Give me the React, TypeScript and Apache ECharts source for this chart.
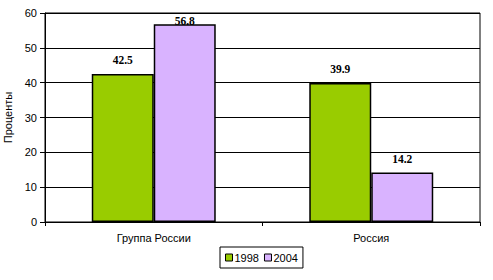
import React, { useEffect, useRef } from "react";
import * as echarts from "echarts";

const categories = ["Группа России", "Россия"];
const seriesNames = ["1998", "2004"];
const values1998 = [42.5, 39.9];
const values2004 = [56.8, 14.2];
const yTicks = [0, 10, 20, 30, 40, 50, 60];

export default function App() {
  const ref = useRef<HTMLDivElement>(null);
  useEffect(() => {
    const chart = echarts.init(ref.current!, null, { renderer: "svg" });
    const labelBase = {
      show: true,
      position: "top" as const,
      distance: 8,
      fontFamily: "Liberation Serif",
      fontWeight: "bold" as const,
      fontSize: 11.5,
      color: "#000",
    };
    const mk = (vals: number[]) =>
      vals.map((v) => ({
        value: v,
        label: v > 55 ? { ...labelBase, position: "insideTop" as const, distance: -9 } : labelBase,
      }));
    chart.setOption({
      animation: false,
      textStyle: { fontFamily: "Liberation Sans" },
      grid: {
        left: 45,
        right: 13,
        top: 13,
        bottom: 58,
        show: true,
        borderColor: "#000",
        borderWidth: 1,
        containLabel: false,
        outerBoundsMode: "none",
      },
      legend: {
        data: seriesNames,
        left: 220,
        top: 247,
        orient: "horizontal",
        icon: "rect",
        itemWidth: 7,
        itemHeight: 7,
        itemGap: 5,
        padding: [5, 5],
        borderColor: "#000",
        borderWidth: 1,
        textStyle: { fontFamily: "Liberation Sans", fontSize: 11, color: "#000", padding: [0, 0, 0, -3] },
        itemStyle: { borderColor: "#000", borderWidth: 1 },
      },
      xAxis: {
        type: "category",
        data: categories,
        axisLine: { lineStyle: { color: "#000", width: 1 } },
        axisTick: { show: true, length: 4, lineStyle: { color: "#000" } },
        axisLabel: { color: "#000", fontSize: 11, fontFamily: "Liberation Sans", margin: 10 },
      },
      yAxis: {
        type: "value",
        min: yTicks[0],
        max: yTicks[yTicks.length - 1],
        interval: 10,
        name: "Проценты",
        nameLocation: "middle",
        nameGap: 29,
        nameRotate: 90,
        nameTextStyle: { color: "#000", fontSize: 11, fontFamily: "Liberation Sans" },
        axisLine: { show: true, lineStyle: { color: "#000", width: 1 } },
        axisTick: { show: true, length: 5, lineStyle: { color: "#000" } },
        axisLabel: { color: "#000", fontSize: 11, fontFamily: "Liberation Sans", margin: 8 },
        splitLine: { show: true, lineStyle: { color: "#000", width: 1 } },
      },
      series: [
        {
          name: seriesNames[0],
          type: "bar",
          data: mk(values1998),
          barGap: "0%",
          barCategoryGap: "43%",
          itemStyle: { color: "#99CC00", borderColor: "#000", borderWidth: 1.5 },
        },
        {
          name: seriesNames[1],
          type: "bar",
          data: mk(values2004),
          barGap: "0%",
          barCategoryGap: "43%",
          itemStyle: { color: "#D9B3FF", borderColor: "#000", borderWidth: 1.5 },
        },
      ],
    });
    return () => chart.dispose();
  }, []);
  return <div ref={ref} style={{ width: 493, height: 280, position: "absolute", left: 0, top: 0 }} />;
}
